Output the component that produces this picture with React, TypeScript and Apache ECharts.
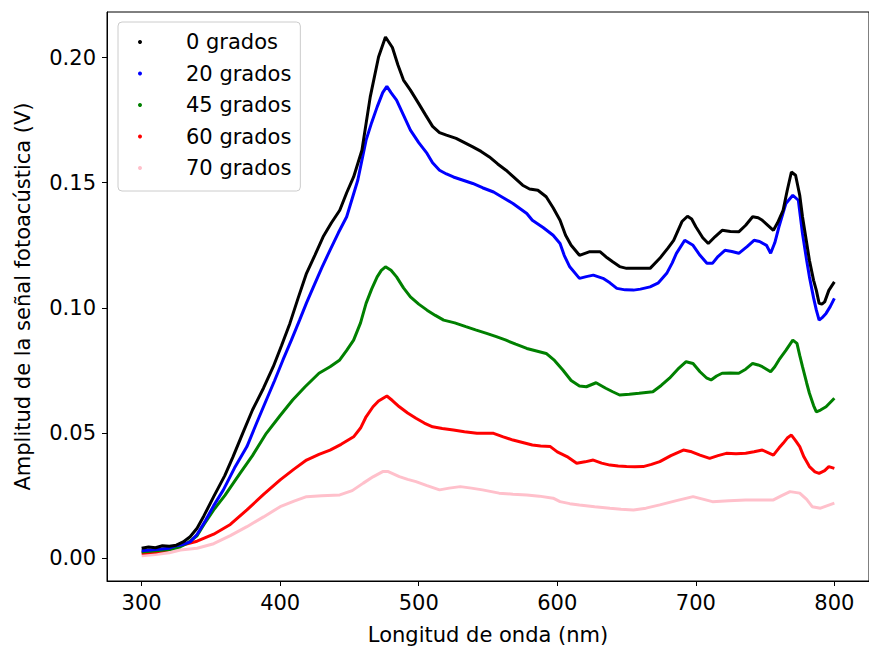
import React, { useEffect, useRef } from "react";
import * as echarts from "echarts";

const seriesNames = ["0 grados", "20 grados", "45 grados", "60 grados", "70 grados"];
const seriesColors = ["#000000", "#0000ff", "#008000", "#ff0000", "#ffc0cb"];

const xTicks = [300, 400, 500, 600, 700, 800];
const yTicks = [0, 0.05, 0.1, 0.15, 0.2];

// [wavelength nm, amplitude V]
const black0: number[][] = [
  [300, 0.004], [305, 0.0045], [310, 0.0042], [315, 0.005], [320, 0.0048], [325, 0.0052], [330, 0.0065],
  [335, 0.0086], [340, 0.012], [345, 0.017], [352, 0.0246], [360, 0.033], [366, 0.0406], [373, 0.05],
  [380, 0.0592], [388, 0.068], [395, 0.0765], [401, 0.085], [407, 0.0938], [413, 0.104], [419, 0.1138],
  [425, 0.121], [431, 0.1284], [437, 0.134], [443, 0.139], [448, 0.146], [453, 0.1523], [459, 0.163],
  [465, 0.1843], [471, 0.2002], [476, 0.2082], [481, 0.204], [485, 0.197], [489, 0.191], [494, 0.187],
  [500, 0.1816], [505, 0.177], [510, 0.1725], [515, 0.17], [520, 0.169], [527, 0.1677], [533, 0.166],
  [539, 0.1643], [545, 0.1625], [551, 0.1603], [557, 0.1575], [563, 0.155], [569, 0.152], [575, 0.149],
  [580, 0.1475], [586, 0.147], [592, 0.1444], [597, 0.14], [602, 0.135], [606, 0.129], [610, 0.125],
  [616, 0.121], [623, 0.1224], [631, 0.1224], [636, 0.12], [640, 0.1184], [645, 0.1165], [650, 0.1158],
  [660, 0.1158], [667, 0.1158], [674, 0.1198], [680, 0.124], [684, 0.127], [690, 0.1345], [694, 0.1366],
  [697, 0.1355], [700, 0.1324], [705, 0.128], [709, 0.1257], [714, 0.1285], [719, 0.131], [725, 0.1305],
  [731, 0.1304], [736, 0.133], [741, 0.1364], [745, 0.136], [748, 0.135], [752, 0.133], [756, 0.131],
  [759, 0.134], [763, 0.139], [766, 0.147], [769, 0.1543], [772, 0.153], [775, 0.145], [777, 0.1364],
  [780, 0.126], [782, 0.119], [785, 0.111], [787, 0.107], [789, 0.1018], [791, 0.1015], [793, 0.1024],
  [796, 0.107], [800, 0.1104],
];

const blue20: number[][] = [
  [300, 0.003], [310, 0.0035], [320, 0.004], [325, 0.005], [330, 0.0055], [335, 0.0065], [340, 0.0095],
  [346, 0.015], [352, 0.021], [359, 0.0273], [367, 0.036], [376, 0.0446], [383, 0.054], [390, 0.0632],
  [396, 0.071], [402, 0.0792], [408, 0.087], [414, 0.0951], [419, 0.102], [424, 0.1084], [430, 0.116],
  [436, 0.1231], [442, 0.13], [448, 0.1364], [456, 0.151], [462, 0.167], [466, 0.174], [470, 0.1803],
  [474, 0.186], [477, 0.1885], [480, 0.186], [484, 0.183], [489, 0.177], [494, 0.171], [500, 0.166],
  [506, 0.1617], [510, 0.158], [515, 0.155], [520, 0.1535], [525, 0.1523], [532, 0.151], [539, 0.1497],
  [546, 0.148], [554, 0.1463], [561, 0.144], [568, 0.1417], [578, 0.1377], [582, 0.135], [590, 0.132],
  [597, 0.129], [602, 0.1257], [605, 0.121], [609, 0.1164], [616, 0.1118], [621, 0.1125], [626, 0.1131],
  [633, 0.1118], [638, 0.11], [643, 0.1078], [649, 0.1072], [655, 0.1071], [660, 0.1075], [667, 0.1084],
  [673, 0.11], [679, 0.1138], [683, 0.118], [686, 0.1218], [692, 0.127], [698, 0.125], [703, 0.121],
  [708, 0.1178], [712, 0.1178], [716, 0.1205], [721, 0.123], [726, 0.1225], [731, 0.1218], [737, 0.1245],
  [742, 0.127], [746, 0.1265], [751, 0.125], [754, 0.1218], [757, 0.126], [760, 0.1324], [763, 0.138],
  [765, 0.1417], [770, 0.145], [774, 0.143], [777, 0.1297], [780, 0.119], [782, 0.1124], [785, 0.104],
  [787, 0.0991], [789, 0.0951], [791, 0.096], [794, 0.0978], [797, 0.1005], [800, 0.1038],
];

const green45: number[][] = [
  [300, 0.0025], [310, 0.003], [320, 0.0035], [328, 0.0046], [333, 0.006], [340, 0.009], [345, 0.0135],
  [352, 0.0193], [360, 0.025], [371, 0.0339], [380, 0.041], [390, 0.0499], [400, 0.057], [409, 0.0632],
  [418, 0.0685], [428, 0.0739], [436, 0.0765], [443, 0.0792], [448, 0.083], [453, 0.0871], [458, 0.094],
  [462, 0.1018], [466, 0.1075], [470, 0.1124], [473, 0.115], [476, 0.1164], [480, 0.115], [484, 0.1124],
  [489, 0.108], [494, 0.1044], [500, 0.1015], [506, 0.0991], [512, 0.097], [518, 0.0951], [526, 0.094],
  [534, 0.0925], [541, 0.0912], [549, 0.0898], [556, 0.0885], [563, 0.0871], [570, 0.0855], [578, 0.0838],
  [585, 0.0828], [592, 0.0818], [598, 0.079], [604, 0.0752], [610, 0.071], [616, 0.0688], [621, 0.0685],
  [628, 0.0701], [635, 0.0679], [640, 0.0665], [645, 0.0652], [652, 0.0655], [659, 0.0659], [669, 0.0665],
  [675, 0.069], [681, 0.0719], [687, 0.0755], [693, 0.0785], [698, 0.0778], [703, 0.0745], [708, 0.0719],
  [711, 0.0712], [715, 0.0728], [719, 0.0739], [725, 0.074], [731, 0.0739], [736, 0.0755], [741, 0.0778],
  [745, 0.0772], [748, 0.0765], [754, 0.0745], [757, 0.0765], [760, 0.0792], [765, 0.083], [770, 0.0871],
  [773, 0.0858], [775, 0.081], [777, 0.0765], [780, 0.07], [782, 0.0659], [785, 0.061], [787, 0.0585],
  [790, 0.0592], [794, 0.0605], [797, 0.0622], [800, 0.0639],
];

const red60: number[][] = [
  [300, 0.002], [310, 0.0025], [320, 0.0035], [325, 0.0046], [333, 0.0058], [340, 0.0068], [352, 0.0096],
  [364, 0.0135], [376, 0.0193], [388, 0.0255], [400, 0.0313], [410, 0.0356], [419, 0.0392], [428, 0.0415],
  [436, 0.0432], [444, 0.0455], [453, 0.0485], [458, 0.052], [462, 0.0565], [467, 0.0605], [471, 0.0628],
  [477, 0.0648], [481, 0.063], [486, 0.0605], [492, 0.058], [498, 0.0559], [504, 0.054], [510, 0.0525],
  [517, 0.0518], [525, 0.0512], [533, 0.0505], [542, 0.0499], [548, 0.0499], [554, 0.0499], [561, 0.0485],
  [568, 0.0472], [575, 0.0462], [582, 0.0452], [588, 0.0448], [595, 0.0446], [600, 0.0425], [607, 0.0406],
  [614, 0.0379], [620, 0.0385], [626, 0.0392], [632, 0.038], [638, 0.0372], [644, 0.0368], [650, 0.0366],
  [656, 0.0365], [662, 0.0366], [668, 0.0375], [674, 0.0386], [682, 0.041], [691, 0.0432], [697, 0.0425],
  [703, 0.0412], [710, 0.0399], [716, 0.041], [722, 0.0419], [729, 0.0417], [736, 0.0419], [742, 0.0425],
  [748, 0.0432], [756, 0.0412], [760, 0.044], [763, 0.0459], [766, 0.048], [769, 0.0492], [772, 0.047],
  [775, 0.0446], [778, 0.0405], [782, 0.0366], [786, 0.0345], [789, 0.0339], [793, 0.035], [796, 0.0366],
  [800, 0.0359],
];

const pink70: number[][] = [
  [300, 0.001], [310, 0.0015], [320, 0.0022], [328, 0.0033], [340, 0.004], [352, 0.0058], [364, 0.009],
  [376, 0.0126], [388, 0.0165], [400, 0.0206], [410, 0.0228], [419, 0.0246], [430, 0.025], [443, 0.0253],
  [452, 0.027], [460, 0.03], [467, 0.0325], [474, 0.0346], [478, 0.0346], [486, 0.0326], [492, 0.0315],
  [498, 0.0306], [506, 0.029], [515, 0.0273], [522, 0.028], [530, 0.0286], [538, 0.028], [546, 0.0273],
  [558, 0.026], [568, 0.0256], [578, 0.0253], [587, 0.0248], [597, 0.024], [602, 0.0226], [609, 0.0218],
  [616, 0.0213], [627, 0.0206], [638, 0.02], [646, 0.0196], [655, 0.0193], [664, 0.02], [674, 0.0213],
  [686, 0.023], [698, 0.0246], [705, 0.0236], [712, 0.0226], [724, 0.023], [736, 0.0233], [746, 0.0233],
  [756, 0.0233], [762, 0.025], [768, 0.0266], [775, 0.026], [780, 0.0235], [784, 0.0206], [790, 0.02],
  [795, 0.021], [800, 0.022],
];

const seriesData = [black0, blue20, green45, red60, pink70];

const FONT = "DejaVu Sans";
const FS = 21;

export default function App() {
  const ref = useRef<HTMLDivElement>(null);
  useEffect(() => {
    document.body.style.margin = "0";
    if (!ref.current) return;
    const chart = echarts.init(ref.current, undefined, { renderer: "svg" });
    chart.setOption({
      animation: false,
      backgroundColor: "#ffffff",
      textStyle: { fontFamily: FONT },
      grid: {
        left: 107,
        top: 12,
        width: 763,
        height: 569,
        show: true,
        borderColor: "#000",
        borderWidth: 1,
        backgroundColor: "transparent",
      },
      legend: {
        show: true,
        orient: "vertical",
        left: 118,
        top: 22,
        data: seriesNames.map((n, i) => ({
          name: n,
          icon: "circle",
          itemStyle: { color: seriesColors[i] },
        })),
        itemWidth: 20,
        itemHeight: 4,
        itemGap: 9.5,
        padding: [9, 9, 12, 20],
        backgroundColor: "rgba(255,255,255,0.8)",
        borderColor: "#cccccc",
        borderWidth: 1,
        borderRadius: 4,
        textStyle: {
          fontFamily: FONT,
          fontSize: FS,
          color: "#000",
          lineHeight: 22,
          padding: [0, 0, 0, 31],
        },
      },
      xAxis: {
        type: "value",
        min: 275,
        max: 825,
        name: "Longitud de onda (nm)",
        nameLocation: "middle",
        nameGap: 43,
        nameTextStyle: { fontFamily: FONT, fontSize: FS, color: "#000" },
        splitLine: { show: false },
        axisLine: { show: true, onZero: false, lineStyle: { color: "#000", width: 1 } },
        axisTick: { show: true, length: 5, lineStyle: { color: "#000" }, customValues: xTicks },
        axisLabel: {
          fontFamily: FONT,
          fontSize: FS,
          color: "#000",
          margin: 11,
          customValues: xTicks,
          formatter: (v: number) => String(Math.round(v)),
        },
      },
      yAxis: {
        type: "value",
        min: -0.0091,
        max: 0.2182,
        name: "Amplitud de la señal fotoacústica (V)",
        nameLocation: "middle",
        nameGap: 74,
        nameRotate: 90,
        nameTextStyle: { fontFamily: FONT, fontSize: FS, color: "#000" },
        splitLine: { show: false },
        axisLine: { show: true, onZero: false, lineStyle: { color: "#000", width: 1 } },
        axisTick: { show: true, length: 5, lineStyle: { color: "#000" }, customValues: yTicks },
        axisLabel: {
          fontFamily: FONT,
          fontSize: FS,
          color: "#000",
          margin: 11,
          customValues: yTicks,
          formatter: (v: number) => v.toFixed(2),
        },
      },
      series: seriesNames.map((n, i) => ({
        name: n,
        type: "line",
        data: seriesData[i],
        showSymbol: false,
        symbol: "circle",
        symbolSize: 4,
        itemStyle: { color: seriesColors[i] },
        lineStyle: { color: seriesColors[i], width: 3 },
        z: 10 - i,
      })),
    });
    return () => chart.dispose();
  }, []);
  return <div ref={ref} style={{ width: 869, height: 652 }} />;
}
